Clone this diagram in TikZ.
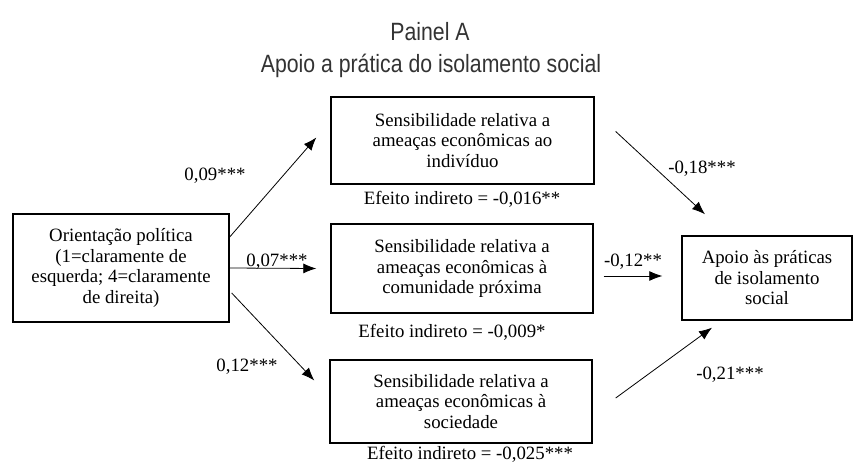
\documentclass[tikz,border=0pt]{standalone}
\usepackage{fontspec}
\setmainfont{Liberation Serif}
\newfontfamily\titlefont[FakeStretch=0.85]{Liberation Sans}
\usetikzlibrary{arrows.meta}
\definecolor{titlegray}{HTML}{333333}

\begin{document}
\begin{tikzpicture}[x=1pt,y=-1pt,
    caixa/.style={draw,line width=1.4pt,align=center,inner sep=0pt,
      font=\fontsize{18.8}{20.5}\selectfont},
    rotulo/.style={anchor=base,inner sep=0pt,font=\fontsize{18.8}{20.5}\selectfont},
    titulo/.style={anchor=base,inner sep=0pt,text=titlegray,
      font={\titlefont\fontsize{25}{28}\selectfont}},
    seta/.style={-{Latex[length=13pt,width=10pt]},line width=0.8pt}]
  \useasboundingbox (0,0) rectangle (853,470);
  \node[titulo] (painel) at (430,41) {Painel A};
  \node[titulo] (tema) at (431,73) {Apoio a prática do isolamento social};

  \node[caixa,minimum width=216pt,minimum height=108pt] (orient) at (121,268)
    {Orientação política\\(1=claramente de\\esquerda; 4=claramente\\de direita)};
  \node[caixa,minimum width=263pt,minimum height=87pt] (ind) at (462.5,140.5)
    {Sensibilidade relativa a\\ameaças econômicas ao\\indivíduo};
  \node[caixa,minimum width=262pt,minimum height=89pt] (com) at (462,268.5)
    {Sensibilidade relativa a\\ameaças econômicas à\\comunidade próxima};
  \node[caixa,minimum width=262pt,minimum height=83pt] (soc) at (461,401.5)
    {Sensibilidade relativa a\\ameaças econômicas à\\sociedade};
  \node[caixa,minimum width=170pt,minimum height=84pt] (apoio) at (767,278)
    {Apoio às práticas\\de isolamento\\social};

  \node[rotulo] (ef1) at (462,205) {Efeito indireto = -0,016**};
  \node[rotulo] (ef2) at (452,337) {Efeito indireto = -0,009*};
  \node[rotulo] (ef3) at (470,459) {Efeito indireto = -0,025***};

  \coordinate (s1) at ([yshift=31pt]orient.east);
  \coordinate (e1) at ([xshift=-14pt,yshift=3pt]ind.west);
  \coordinate (s2) at (orient.east);
  \coordinate (e2) at ([xshift=-14pt]com.west);
  \coordinate (s3) at ([xshift=2pt,yshift=-25pt]orient.east);
  \coordinate (e3) at ([xshift=-15pt,yshift=21pt]soc.west);
  \coordinate (s4) at ([xshift=21pt,yshift=9pt]ind.east);
  \coordinate (e4) at ([xshift=-62pt,yshift=21pt]apoio.north);
  \coordinate (s5) at ([xshift=10pt,yshift=-7.5pt]com.east);
  \coordinate (e5) at ([xshift=-19pt,yshift=2pt]apoio.west);
  \coordinate (s6) at ([xshift=23pt,yshift=3.5pt]soc.east);
  \coordinate (e6) at ([xshift=-55pt,yshift=-7pt]apoio.south);
  \foreach \s/\e in {s1/e1,s2/e2,s3/e3,s4/e4,s5/e5,s6/e6}{
    \draw[seta] (\s) -- (\e);
  }

  \node[rotulo] (b1) at (215,181) {0,09***};
  \node[rotulo] (b2) at (277,266) {0,07***};
  \node[rotulo] (b3) at (247,371) {0,12***};
  \node[rotulo] (b4) at (702,174) {-0,18***};
  \node[rotulo] (b5) at (633,266) {-0,12**};
  \node[rotulo] (b6) at (730,379) {-0,21***};
\end{tikzpicture}
\end{document}
